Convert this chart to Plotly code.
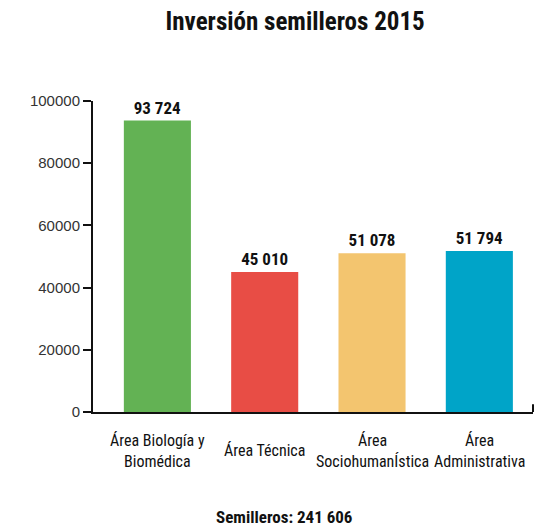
import plotly.graph_objects as go

categories = ["Área Biología y<br>Biomédica", "Área Técnica", "Área<br>SociohumanÍstica", "Área<br>Administrativa"]
values = [93724, 45010, 51078, 51794]
colors = ["#63b254", "#e84d45", "#f3c56f", "#00a4c8"]
yticks = [0, 20000, 40000, 60000, 80000, 100000]
title_text = "Inversión semilleros 2015"
footer_text = "Semilleros: 241 606"

cond = "Liberation Sans Narrow, Arial Narrow, Roboto Condensed, sans-serif"

fig = go.Figure()
fig.add_trace(go.Bar(
    x=list(range(len(values))), y=values, marker=dict(color=colors, line=dict(width=0)),
    width=0.625,
    texttemplate="<b>%{y:,}</b>", textposition="outside",
    textfont=dict(family=cond, size=17, color="#111111"),
    cliponaxis=False, hoverinfo="skip",
))

for i, c in enumerate(categories):
    fig.add_annotation(x=i, y=-0.125, xref="x", yref="paper", text=c, showarrow=False,
                       yanchor="middle", align="center",
                       font=dict(family=cond, size=16, color="#111111"))

fig.add_annotation(x=0.434, y=-0.338, xref="paper", yref="paper", text="<b>" + footer_text + "</b>",
                   showarrow=False, yanchor="middle", font=dict(family=cond, size=17, color="#111111"))

fig.add_shape(type="line", xref="paper", yref="paper", x0=1, x1=1, y0=0, y1=0.025,
              line=dict(color="#111111", width=2))

fig.update_layout(
    width=549, height=518,
    margin=dict(l=85, r=24, t=93, b=114),
    paper_bgcolor="white", plot_bgcolor="white",
    separators=". ",
    showlegend=False,
    title=dict(text="<b>" + title_text + "</b>", x=0.523, xref="container", y=1 - 13 / 518,
               yref="container", xanchor="center", yanchor="middle",
               font=dict(family=cond, size=25, color="#111111")),
    xaxis=dict(range=[-0.6, 3.5], showticklabels=False, ticks="", showgrid=False, zeroline=False,
               showline=True, linecolor="#111111", linewidth=2, fixedrange=True),
    yaxis=dict(range=[0, 100000], tickvals=yticks, tickformat="d", ticks="outside", ticklen=8,
               tickwidth=2, tickcolor="#111111", showgrid=False, zeroline=False,
               showline=True, linecolor="#111111", linewidth=2,
               tickfont=dict(family="Liberation Sans, Arial, sans-serif", size=15, color="#333333")),
)

fig.write_html("out.html")
